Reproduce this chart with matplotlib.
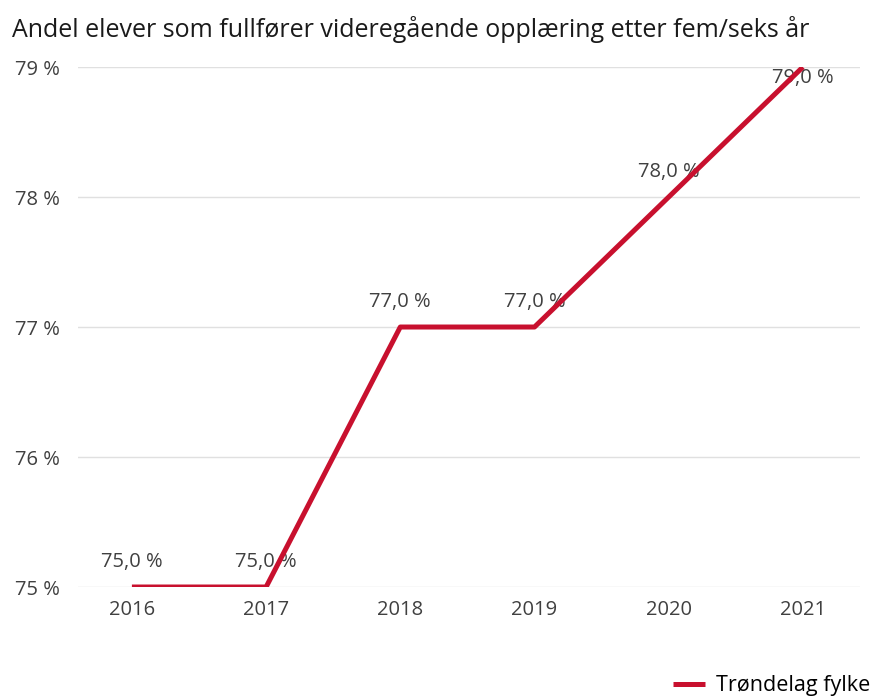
import matplotlib.pyplot as plt

years = ["2016", "2017", "2018", "2019", "2020", "2021"]
values = [75.0, 75.0, 77.0, 77.0, 78.0, 79.0]
series_name = "Trøndelag fylke"
title = "Andel elever som fullfører videregående opplæring etter fem/seks år"

plt.rcParams['font.family'] = ['Open Sans', 'DejaVu Sans']

fig = plt.figure(figsize=(8.73, 6.96), dpi=100)
ax = fig.add_axes([0.0893, 0.1566, 0.8957, 0.7471])

x = list(range(len(years)))
ax.plot(x, values, color="#C8102E", linewidth=3.6, solid_capstyle="butt",
        label=series_name, zorder=3)

ymax = max(values)
for xi, v in zip(x, values):
    # top label doesn't fit above the plot area, so it goes just under the point
    dy = -8 if v >= ymax else 18
    ax.annotate(f"{v:.1f} %".replace(".", ","), (xi, v), xytext=(0, dy),
                textcoords="offset points", ha="center", va="center",
                fontsize=14.5, color="#404040", zorder=2)

ax.set_xlim(-0.402, 5.425)
ax.set_ylim(75, 79)
ax.set_yticks([75, 76, 77, 78, 79])
ax.set_yticklabels([f"{t} %" for t in range(75, 80)])
ax.set_xticks(x)
ax.set_xticklabels(years)
ax.tick_params(axis="both", length=0, labelsize=14.5, colors="#404040")
ax.tick_params(axis="y", pad=13)
ax.tick_params(axis="x", pad=9.5)
ax.grid(axis="y", color="#e0e0e0", linewidth=1)
ax.set_axisbelow(True)
for s in ax.spines.values():
    s.set_visible(False)

fig.text(0.014, 0.957, title, fontsize=18, color="#1a1a1a", va="center", ha="left")

fig.legend(loc="lower right", bbox_to_anchor=(1.019, -0.028), frameon=False,
           fontsize=15.5, handlelength=1.5, handletextpad=0.5)

fig.savefig("out.png", dpi=100)
